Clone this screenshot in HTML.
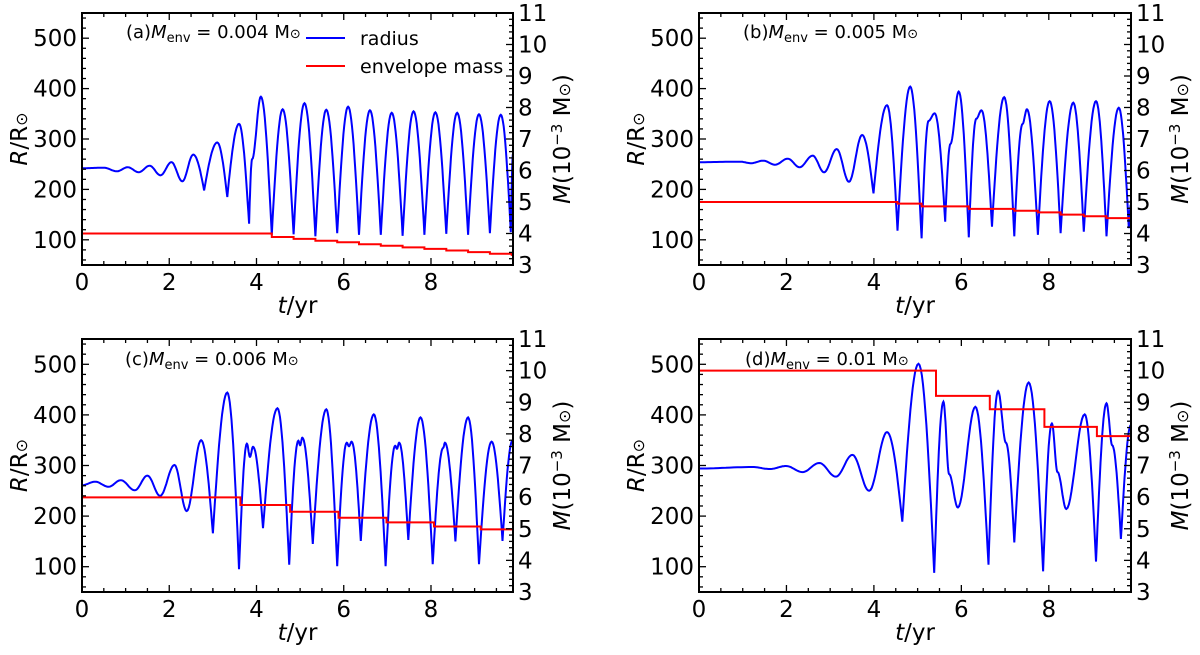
<!DOCTYPE html>
<html><head><meta charset="utf-8"><style>
body{margin:0;background:#fff}
svg text{font-family:"DejaVu Sans","Liberation Sans",sans-serif;fill:#000}
</style></head><body>
<svg id="fig" width="1200" height="650" viewBox="0 0 1200 650" xmlns="http://www.w3.org/2000/svg"></svg>
<script>
// ---- data: panel (a) ----
const aT=[0,0.5,0.8,1.05,1.3,1.55,1.8,2.05,2.3,2.55,2.8,3.1,3.33,3.6,3.83,3.9,4.1,4.35,4.6,4.85,5.1,5.35,5.6,5.85,6.1,6.35,6.6,6.85,7.1,7.35,7.6,7.85,8.1,8.35,8.6,8.85,9.1,9.35,9.6,9.83,9.88];
const aR=[242,243,236,244,234,247,228,254,216,269,198,293,185,330,132,260,384,110,359,111,371,107,358,113,364,110,357,110,352,108,355,110,353,112,352,110,349,113,348,115,270];
const aStepT=[0,4.35,4.85,5.35,5.85,6.35,6.85,7.35,7.85,8.35,8.85,9.35,9.85];
const aM=[4.0,3.89,3.83,3.77,3.72,3.66,3.61,3.56,3.51,3.46,3.41,3.36,3.32];
// ---- panel (b) ----
const bT=[0,0.94,1.19,1.47,1.74,2.03,2.3,2.6,2.86,3.15,3.43,3.73,3.99,4.3,4.54,4.83,5.09,5.25,5.39,5.63,5.75,5.94,6.17,6.34,6.46,6.7,6.98,7.21,7.4,7.5,7.75,8.02,8.27,8.56,8.8,9.08,9.32,9.6,9.83,9.88];
const bR=[254,255,252,257,249,261,244,267,234,280,215,308,192,367,118,404,103,336,351,136,290,394,105,340,357,126,383,107,330,359,110,375,113,372,116,375,107,362,123,170];
const bStepT=[0,4.54,5.09,6.17,7.21,7.75,8.27,8.8,9.32];
const bM=[5.0,4.95,4.86,4.78,4.72,4.67,4.6,4.55,4.49];
// ---- panel (c) ----
const cT=[0,0.3,0.61,0.89,1.21,1.5,1.79,2.12,2.4,2.73,3.0,3.33,3.6,3.78,3.85,3.92,4.15,4.48,4.75,4.96,5.0,5.05,5.29,5.6,5.85,6.07,6.12,6.18,6.39,6.69,6.96,7.18,7.22,7.27,7.48,7.76,8.04,8.28,8.32,8.56,8.85,9.1,9.39,9.64,9.87];
const cR=[261,268,258,271,251,280,240,301,210,350,166,444,95,343,317,337,176,413,104,349,340,355,145,411,101,345,338,347,151,401,101,339,333,345,153,395,105,335,345,150,395,105,347,151,349];
const cStepT=[0,3.63,4.77,5.88,6.98,8.07,9.14];
const cM=[5.99,5.75,5.54,5.35,5.2,5.07,4.98];
// ---- panel (d) ----
const dT=[0,1.23,1.62,1.99,2.37,2.75,3.13,3.51,3.89,4.3,4.65,5.02,5.38,5.59,5.72,5.92,6.32,6.62,6.84,7.02,7.21,7.54,7.87,8.07,8.2,8.4,8.82,9.08,9.32,9.45,9.65,9.88];
const dR=[294,297,293,299,287,305,278,321,250,366,189,501,88,426,283,217,416,104,447,345,148,464,91,383,287,214,401,110,423,340,155,380];
const dStepT=[0,5.42,6.65,7.9,9.1];
const dM=[10.0,9.2,8.78,8.22,7.93];

const NS="http://www.w3.org/2000/svg";
const svg=document.getElementById('fig');
function mk(tag,attrs,parent){const e=document.createElementNS(NS,tag);for(const k in attrs)e.setAttribute(k,attrs[k]);(parent||svg).appendChild(e);return e;}

const XMAX=9.88,RMIN=50,RMAX=550,MMIN=3,MMAX=11;
const panels=[
 {id:'a',x0:82,x1:513,y0:13,y1:265,T:aT,R:aR,ST:aStepT,M:aM,label:'(a)',val:'0.004',lx:126,ly:38},
 {id:'b',x0:699,x1:1131,y0:13,y1:265,T:bT,R:bR,ST:bStepT,M:bM,label:'(b)',val:'0.005',lx:743,ly:38},
 {id:'c',x0:82,x1:513,y0:339,y1:592,T:cT,R:cR,ST:cStepT,M:cM,label:'(c)',val:'0.006',lx:125,ly:365},
 {id:'d',x0:699,x1:1131,y0:339,y1:592,T:dT,R:dR,ST:dStepT,M:dM,label:'(d)',val:'0.01',lx:745,ly:365}
];

panels.forEach(p=>{
  const g=mk('g',{});
  
  
  const xs=t=>p.x0+(t/XMAX)*(p.x1-p.x0);
  const ys=r=>p.y1-(r-RMIN)/(RMAX-RMIN)*(p.y1-p.y0);
  const ym=m=>p.y1-(m-MMIN)/(MMAX-MMIN)*(p.y1-p.y0);
  const cp=mk('clipPath',{id:'clip'+p.id},g);
  mk('rect',{x:p.x0,y:p.y0,width:p.x1-p.x0,height:p.y1-p.y0},cp);
  let d='';
  for(let i=0;i<p.T.length-1;i++){
    const t0=p.T[i],t1=p.T[i+1],r0=p.R[i],r1=p.R[i+1];
    const N=14;
    for(let k=(i==0?0:1);k<=N;k++){
      const w=k/N;let f;
      if(r1<r0 && r1<200) f=1-Math.cos(Math.PI*w/2);
      else if(r1>r0 && r0<200) f=Math.sin(Math.PI*w/2);
      else f=(1-Math.cos(Math.PI*w))/2;
      const t=t0+(t1-t0)*w,r=r0+(r1-r0)*f;
      d+=(d?'L':'M')+xs(t).toFixed(1)+','+ys(r).toFixed(1);
    }
  }
  const rl=mk('path',{d:d,fill:'none',stroke:'#0000ff','stroke-width':2,'clip-path':'url(#clip'+p.id+')'},g);
  
  
  let md='';
  for(let i=0;i<p.ST.length;i++){
    const tA=p.ST[i],tB=(i+1<p.ST.length)?p.ST[i+1]:XMAX;
    md+=(i==0?'M':'L')+xs(tA).toFixed(1)+','+ym(p.M[i]).toFixed(1)+'L'+xs(tB).toFixed(1)+','+ym(p.M[i]).toFixed(1);
  }
  const ml=mk('path',{d:md,fill:'none',stroke:'#ff0000','stroke-width':2,'clip-path':'url(#clip'+p.id+')'},g);
  
  
  const fr=mk('rect',{x:p.x0,y:p.y0,width:p.x1-p.x0,height:p.y1-p.y0,fill:'none',stroke:'#000','stroke-width':2},g);
  
  
  for(let t=0;t<=XMAX+1e-6;t+=0.5){
    const x=xs(t),maj=Math.abs(t/2-Math.round(t/2))<1e-6,L=maj?7:4;
    mk('line',{x1:x,y1:p.y1,x2:x,y2:p.y1-L,stroke:'#000','stroke-width':1.3},g);
    mk('line',{x1:x,y1:p.y0,x2:x,y2:p.y0+L,stroke:'#000','stroke-width':1.3},g);
    if(maj){const tl=mk('text',{x:x,y:p.y1+25,'font-size':23,'text-anchor':'middle'},g);tl.textContent=Math.round(t);
      
      }
  }
  for(let r=60;r<=RMAX;r+=20){
    const y=ys(r),maj=r%100==0,L=maj?7:4;
    mk('line',{x1:p.x0,y1:y,x2:p.x0+L,y2:y,stroke:'#000','stroke-width':1.3},g);
    if(maj){const tl=mk('text',{x:p.x0-5,y:y+8,'font-size':23,'text-anchor':'end'},g);tl.textContent=r;
      
      }
  }
  for(let i=0;i<=40;i++){
    const m=MMIN+i*0.2,y=ym(m),maj=i%5==0,L=maj?7:4;
    mk('line',{x1:p.x1,y1:y,x2:p.x1-L,y2:y,stroke:'#000','stroke-width':1.3},g);
    if(maj){const tl=mk('text',{x:p.x1+5,y:y+8,'font-size':23},g);tl.textContent=Math.round(m);
      
      }
  }
  const cx=(p.x0+p.x1)/2,cy=(p.y0+p.y1)/2;
  const xt=mk('text',{x:cx,y:p.y1+48,'font-size':23,'text-anchor':'middle'},g);
  xt.innerHTML='<tspan font-style="italic">t</tspan>/yr';
  
  
  const yl=mk('text',{x:0,y:0,'font-size':23,'text-anchor':'middle',transform:`translate(${p.x0-55},${cy}) rotate(-90)`},g);
  yl.innerHTML='<tspan font-style="italic">R</tspan>/R<tspan font-size="16">⊙</tspan>';
  
  
  const yr=mk('text',{x:0,y:0,'font-size':23,'text-anchor':'middle',transform:`translate(${p.x1+57},${cy}) rotate(-90)`},g);
  yr.innerHTML='<tspan font-style="italic">M</tspan>(10<tspan dy="-8" font-size="15">−3</tspan><tspan dy="8"> M</tspan><tspan font-size="16">⊙</tspan>)';
  
  
  const an=mk('text',{x:p.lx,y:p.ly,'font-size':18},g);
  an.innerHTML=p.label+'<tspan font-style="italic">M</tspan><tspan font-size="13" dy="4">env</tspan><tspan dy="-4"> = '+p.val+' M</tspan><tspan font-size="13">⊙</tspan>';
  
  
});
const lg=mk('g',{});


const l1=mk('line',{x1:306,y1:38,x2:345,y2:38,stroke:'#0000ff','stroke-width':2},lg);


const t1=mk('text',{x:360,y:45,'font-size':19},lg);t1.textContent='radius';


const l2=mk('line',{x1:306,y1:66,x2:345,y2:66,stroke:'#ff0000','stroke-width':2},lg);


const t2=mk('text',{x:360,y:73,'font-size':19},lg);t2.textContent='envelope mass';


</script>
</body></html>
